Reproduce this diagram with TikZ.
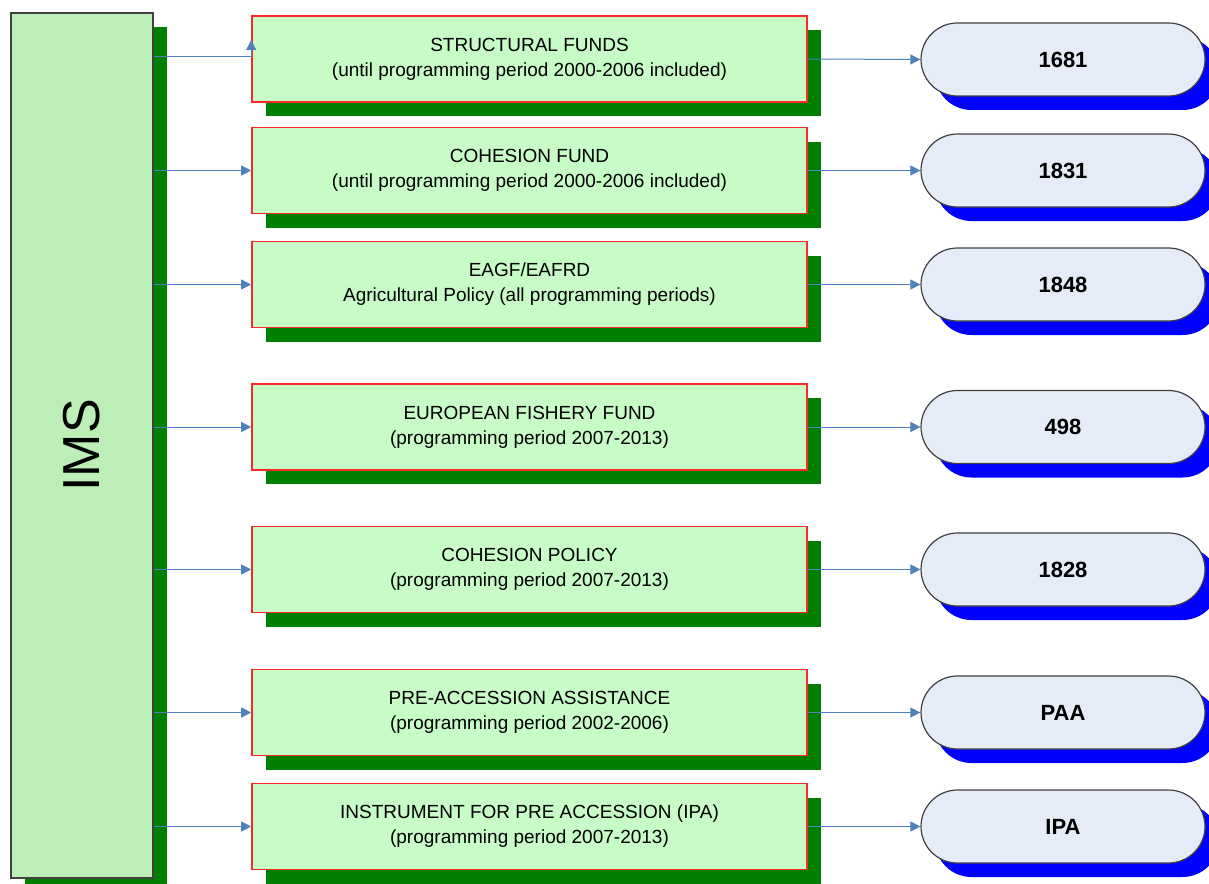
\documentclass[tikz,border=0pt]{standalone}
\usepackage{fontspec}
\setmainfont{Liberation Sans}
\usepackage{tikz}
\usetikzlibrary{shadows,shapes.misc,arrows.meta}

\definecolor{imsfill}{RGB}{190,238,184}
\definecolor{fundfill}{RGB}{199,252,199}
\definecolor{fundline}{RGB}{255,40,40}
\definecolor{darkshade}{RGB}{0,128,0}
\definecolor{pillfill}{RGB}{230,236,247}
\definecolor{pillshade}{RGB}{0,0,255}
\definecolor{linkblue}{RGB}{79,129,189}

\begin{document}
\begin{tikzpicture}[x=0.5pt,y=-0.5pt,
    fund/.style={draw=fundline, fill=fundfill, line width=0.8pt, inner sep=0pt,
        minimum width=277.5pt, minimum height=43pt, align=center,
        font=\fontsize{9.5}{12.5}\selectfont,
        drop shadow={shadow xshift=7pt, shadow yshift=-7pt, fill=darkshade, opacity=1}},
    code/.style={rounded rectangle, draw=black!75, fill=pillfill, line width=0.6pt, inner sep=0pt,
        minimum width=142pt, minimum height=36.5pt,
        font=\fontsize{11}{13}\selectfont\bfseries,
        drop shadow={shadow xshift=7pt, shadow yshift=-7pt, fill=pillshade, opacity=1}},
    link/.style={draw=linkblue, line width=0.5pt, -{Triangle[length=5pt,width=5pt]}}]
    \useasboundingbox (0,0) rectangle (1209,883);

    \node[draw=black!75, fill=imsfill, line width=0.8pt, inner sep=0pt,
        minimum width=71pt, minimum height=432.5pt,
        drop shadow={shadow xshift=7pt, shadow yshift=-7pt, fill=darkshade, opacity=1}]
        (ims) at (82,445.5) {};
    \node[rotate=90, font=\fontsize{26}{30}\selectfont] at (ims.center) {IMS};

    \node[fund] (sf) at (529.5,59) {STRUCTURAL FUNDS\\(until programming period 2000-2006 included)};
    \node[fund] (cf) at (529.5,170.5) {COHESION FUND\\(until programming period 2000-2006 included)};
    \node[fund] (agri) at (529.5,284.5) {EAGF/EAFRD\\Agricultural Policy (all programming periods)};
    \node[fund] (eff) at (529.5,427) {EUROPEAN FISHERY FUND\\(programming period 2007-2013)};
    \node[fund] (cp) at (529.5,569.5) {COHESION POLICY\\(programming period 2007-2013)};
    \node[fund] (paa) at (529.5,712.5) {PRE-ACCESSION ASSISTANCE\\(programming period 2002-2006)};
    \node[fund] (ipa) at (529.5,826.5) {INSTRUMENT FOR PRE ACCESSION (IPA)\\(programming period 2007-2013)};

    \node[code] (c1681) at (1063,59.5) {1681};
    \node[code] (c1831) at (1063,170.5) {1831};
    \node[code] (c1848) at (1063,284.5) {1848};
    \node[code] (c498) at (1063,427) {498};
    \node[code] (c1828) at (1063,569.5) {1828};
    \node[code] (cpaa) at (1063,712.5) {PAA};
    \node[code] (cipa) at (1063,826.5) {IPA};

    % links from IMS
    \coordinate (sfin) at ([yshift=1pt]sf.west);
    \draw[link] (ims.east |- sfin) -- (sfin) -- ([yshift=9.5pt]sf.west);
    \draw[link] (ims.east |- cf) -- (cf.west);
    \draw[link] (ims.east |- agri) -- (agri.west);
    \draw[link] (ims.east |- eff) -- (eff.west);
    \draw[link] (ims.east |- cp) -- (cp.west);
    \draw[link] (ims.east |- paa) -- (paa.west);
    \draw[link] (ims.east |- ipa) -- (ipa.west);

    % links to codes
    \draw[link] (sf.east) -- (c1681.west);
    \draw[link] (cf.east) -- (c1831.west);
    \draw[link] (agri.east) -- (c1848.west);
    \draw[link] (eff.east) -- (c498.west);
    \draw[link] (cp.east) -- (c1828.west);
    \draw[link] (paa.east) -- (cpaa.west);
    \draw[link] (ipa.east) -- (cipa.west);
\end{tikzpicture}
\end{document}
